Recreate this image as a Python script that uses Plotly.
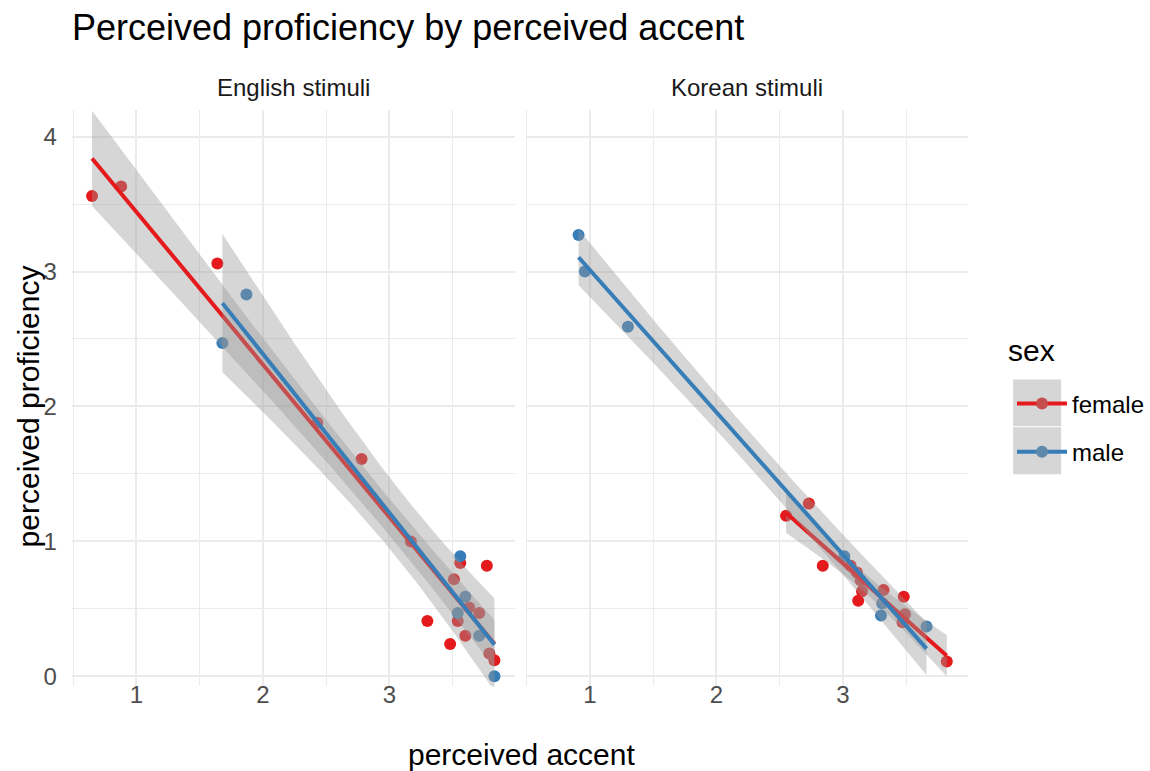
import numpy as np
import plotly.graph_objects as go

# ---------------- data ----------------
eng_female_accent = [0.65, 0.88, 1.64, 2.43, 2.78, 3.17, 3.56, 3.77, 3.51, 3.63, 3.71, 3.54, 3.30, 3.60, 3.48, 3.79, 3.83]
eng_female_prof = [3.56, 3.63, 3.06, 1.88, 1.61, 1.00, 0.84, 0.82, 0.72, 0.51, 0.47, 0.41, 0.41, 0.30, 0.24, 0.17, 0.12]
eng_male_accent = [1.68, 1.87, 3.56, 3.60, 3.54, 3.71, 3.83]
eng_male_prof = [2.47, 2.83, 0.89, 0.59, 0.47, 0.30, 0.00]

kor_female_accent = [2.55, 2.73, 2.84, 3.06, 3.11, 3.14, 3.15, 3.12, 3.32, 3.48, 3.49, 3.47, 3.82]
kor_female_prof = [1.19, 1.28, 0.82, 0.82, 0.77, 0.71, 0.63, 0.56, 0.64, 0.59, 0.46, 0.40, 0.11]
kor_male_accent = [0.91, 0.96, 1.30, 3.01, 3.31, 3.30, 3.66]
kor_male_prof = [3.27, 3.00, 2.59, 0.89, 0.54, 0.45, 0.37]

panel_titles = ["English stimuli", "Korean stimuli"]
sex_levels = ["female", "male"]
x_ticks = [1, 2, 3]
y_ticks = [0, 1, 2, 3, 4]

# ---------------- style ----------------
W, H = 1150, 771
FONT = "Liberation Sans, Arial, Helvetica, sans-serif"
COL = {"female": "#E41A1C", "male": "#377EB8"}
KEYDOT = {"female": "#C64D4E", "male": "#5E89AB"}
RIBBON = "rgba(153,153,153,0.4)"
GRID = "#EBEBEB"
SMALL = 24
AXIS_TITLE_SIZE = 30
TITLE_SIZE = 36


def t975(df):
    z = 1.959963985
    g1 = (z**3 + z) / 4
    g2 = (5 * z**5 + 16 * z**3 + 3 * z) / 96
    g3 = (3 * z**7 + 19 * z**5 + 17 * z**3 - 15 * z) / 384
    g4 = (79 * z**9 + 776 * z**7 + 1482 * z**5 - 1920 * z**3 - 945 * z) / 92160
    return z + g1 / df + g2 / df**2 + g3 / df**3 + g4 / df**4


def lm_band(x, y, n_out=80):
    x = np.asarray(x, float)
    y = np.asarray(y, float)
    n = len(x)
    slope, icpt = np.polyfit(x, y, 1)
    resid = y - (icpt + slope * x)
    s = np.sqrt(np.sum(resid**2) / (n - 2))
    xm = x.mean()
    sxx = np.sum((x - xm) ** 2)
    xs = np.linspace(x.min(), x.max(), n_out)
    fit = icpt + slope * xs
    se = s * np.sqrt(1.0 / n + (xs - xm) ** 2 / sxx)
    t = t975(n - 2)
    return xs, fit, fit - t * se, fit + t * se


fig = go.Figure()

panels = [
    ("x", "y", {"female": (eng_female_accent, eng_female_prof), "male": (eng_male_accent, eng_male_prof)}),
    ("x2", "y2", {"female": (kor_female_accent, kor_female_prof), "male": (kor_male_accent, kor_male_prof)}),
]

for xa, ya, groups in panels:
    # points first (drawn beneath the smooths, as in ggplot)
    for sex in sex_levels:
        xs, ys = groups[sex]
        fig.add_trace(go.Scatter(
            x=xs, y=ys, mode="markers", xaxis=xa, yaxis=ya,
            marker=dict(color=COL[sex], size=12, line=dict(width=0)),
            showlegend=False, hoverinfo="skip"))
    for sex in sex_levels:
        xs, ys = groups[sex]
        gx, fit, lo, hi = lm_band(xs, ys)
        fig.add_trace(go.Scatter(
            x=np.concatenate([gx, gx[::-1]]), y=np.concatenate([hi, lo[::-1]]),
            mode="lines", fill="toself", fillcolor=RIBBON, line=dict(width=0),
            xaxis=xa, yaxis=ya, showlegend=False, hoverinfo="skip"))
        fig.add_trace(go.Scatter(
            x=gx, y=fit, mode="lines", line=dict(color=COL[sex], width=4),
            xaxis=xa, yaxis=ya, showlegend=False, hoverinfo="skip"))

# legend entries
for sex in sex_levels:
    fig.add_trace(go.Scatter(
        x=[None], y=[None], mode="lines+markers", name=sex, legendgroup=sex,
        line=dict(color=COL[sex], width=4),
        marker=dict(color=KEYDOT[sex], size=12),
        xaxis="x", yaxis="y", showlegend=True))

x_all = eng_female_accent + eng_male_accent + kor_female_accent + kor_male_accent
xmin, xmax = min(x_all), max(x_all)
xpad = 0.05 * (xmax - xmin)
xrange = [xmin - xpad, xmax + xpad]
yrange = [-0.074, 4.2]

PANEL_TOP, PANEL_BOTTOM = 110, 689
LEFT_PANEL = (72, 515)
RIGHT_PANEL = (526, 969)
X_LABEL_LINE = 681  # where the x tick labels hang from

axis_common = dict(
    showgrid=True, gridcolor=GRID, gridwidth=1.8, zeroline=False, showline=False,
    ticks="", tickfont=dict(family=FONT, size=SMALL, color="#4D4D4D"),
)
minor = dict(dtick=0.5, tick0=0, showgrid=True, gridcolor=GRID, gridwidth=0.9)

fig.update_layout(
    width=W, height=H,
    margin=dict(l=0, r=0, t=0, b=0),
    paper_bgcolor="white", plot_bgcolor="white",
    font=dict(family=FONT, color="black"),
    xaxis=dict(domain=[LEFT_PANEL[0] / W, LEFT_PANEL[1] / W], range=xrange, tickvals=x_ticks,
               anchor="free", position=1 - X_LABEL_LINE / H, minor=minor, **axis_common),
    xaxis2=dict(domain=[RIGHT_PANEL[0] / W, RIGHT_PANEL[1] / W], range=xrange, tickvals=x_ticks,
                anchor="free", position=1 - X_LABEL_LINE / H, minor=minor, **axis_common),
    yaxis=dict(domain=[1 - PANEL_BOTTOM / H, 1 - PANEL_TOP / H], range=yrange, tickvals=y_ticks,
               anchor="x", minor=minor, ticklabelstandoff=14, **axis_common),
    yaxis2=dict(domain=[1 - PANEL_BOTTOM / H, 1 - PANEL_TOP / H], range=yrange, tickvals=y_ticks,
                anchor="x2", showticklabels=False, minor=minor, **axis_common),
    legend=dict(
        x=1013 / W, y=1 - 383 / H, xanchor="left", yanchor="top",
        font=dict(family=FONT, size=SMALL, color="black"),
        bgcolor="rgba(0,0,0,0)", tracegroupgap=14, itemwidth=50,
    ),
    showlegend=True,
)

annotations = [
    dict(text="Perceived proficiency by perceived accent", x=70 / W, y=1 - 28 / H,
         xanchor="left", yanchor="middle", font=dict(family=FONT, size=TITLE_SIZE, color="black")),
    dict(text=panel_titles[0], x=sum(LEFT_PANEL) / 2 / W, y=1 - 88 / H, xanchor="center",
         yanchor="middle", font=dict(family=FONT, size=SMALL, color="#1A1A1A")),
    dict(text=panel_titles[1], x=sum(RIGHT_PANEL) / 2 / W, y=1 - 88 / H, xanchor="center",
         yanchor="middle", font=dict(family=FONT, size=SMALL, color="#1A1A1A")),
    dict(text="perceived accent", x=522 / W, y=1 - 757 / H, xanchor="center", yanchor="middle",
         font=dict(family=FONT, size=AXIS_TITLE_SIZE, color="black")),
    dict(text="perceived proficiency", x=28 / W, y=1 - 408 / H, xanchor="center", yanchor="middle",
         textangle=-90, font=dict(family=FONT, size=AXIS_TITLE_SIZE, color="black")),
    dict(text="sex", x=1007 / W, y=1 - 352 / H, xanchor="left", yanchor="middle",
         font=dict(family=FONT, size=AXIS_TITLE_SIZE, color="black")),
]
for a in annotations:
    a.update(xref="paper", yref="paper", showarrow=False)
fig.update_layout(annotations=annotations)

# legend key backgrounds
fig.add_shape(type="rect", xref="paper", yref="paper", x0=1014 / W, x1=1062 / W,
              y0=1 - 428 / H, y1=1 - 381 / H, fillcolor="#D6D6D6", line=dict(width=0), layer="below")
fig.add_shape(type="rect", xref="paper", yref="paper", x0=1014 / W, x1=1062 / W,
              y0=1 - 476 / H, y1=1 - 429 / H, fillcolor="#D6D6D6", line=dict(width=0), layer="below")

fig.write_html("out.html", config={"displayModeBar": False},
               post_script="document.body.style.margin='0px';")
